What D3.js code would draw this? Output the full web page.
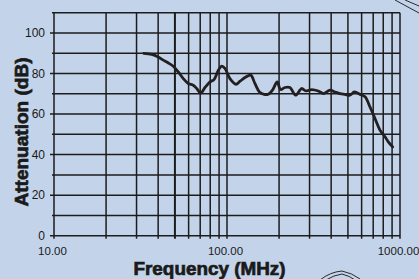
<!DOCTYPE html>
<html>
<head>
  <meta charset="utf-8">
  <script src="https://d3js.org/d3.v7.min.js"></script>
  <style>
    body{ margin:0; background:#c3d4ea; }
    text{ font-family: "Liberation Sans", Arial, sans-serif; fill:#1a1a1a; }
    text.tickLabel{ font-size:12px; }
    text.xl{ font-size:11.5px; }
    text.title{ font-size:18.5px; font-weight:700; stroke:#1a1a1a; stroke-width:0.7px; }
  </style>
</head>
<body>
<script>

  // measured curve (frequency in MHz, attenuation in dB)
  var freq = [33, 36.7, 40, 42.8, 45.8, 48.9, 52.3, 55.9, 59.7, 63.8, 66.8, 70.4, 74.6, 79.8, 84.1, 89.1, 93.2, 97.3,
              104, 112.7, 119, 127, 137, 145, 154, 164, 173, 184, 195, 204, 216, 231, 249, 270, 286, 309, 337, 361,
              394, 421, 450, 481, 514, 545, 588, 628, 671, 717, 766, 819, 856, 907];
  var atten = [89.9, 89.4, 88.2, 86.6, 85.2, 83.6, 80.8, 77.5, 75.1, 74.2, 72.6, 70.4, 73.1, 75.9, 77.0, 81.6, 83.6, 82.5,
               77.5, 74.7, 76.2, 78.0, 79.2, 75.1, 70.9, 69.7, 69.8, 72.1, 75.9, 72.1, 73.1, 73.1, 69.3, 72.6, 71.4, 72.1, 71.4, 70.1,
               71.8, 70.9, 70.1, 69.7, 69.3, 70.9, 69.7, 68.5, 63.5, 57.8, 52.1, 48.8, 46.3, 43.8];

  var xLabels = [10, 100, 1000];
  var yLabels = [0, 20, 40, 60, 80, 100];
  var yGrid = [0, 10, 20, 30, 40, 50, 60, 70, 80, 90, 100, 110];

  var width = 419, height = 279;
  var margin = {top: 12.7, right: 19, bottom: 43.3, left: 54};

  var svg = d3.select("body").append("svg")
    .attr("width", width)
    .attr("height", height);

  var x = d3.scaleLog()
    .domain([10, 1000])
    .range([margin.left, width - margin.right]);

  var y = d3.scaleLinear()
    .domain([0, 110])
    .range([height - margin.bottom, margin.top]);

  var grid = svg.append("g").attr("stroke", "#1c1c1c").attr("stroke-width", 1.5);

  // horizontal grid, with short outer ticks on the labelled values
  grid.selectAll("line.h")
    .data(yGrid)
    .enter().append("line")
    .attr("class", "h")
    .attr("x1", d => x(10) - (d % 20 == 0 ? 4 : 2))
    .attr("x2", x(1000))
    .attr("y1", d => y(d))
    .attr("y2", d => y(d));

  // vertical log grid
  grid.selectAll("line.v")
    .data(x.ticks())
    .enter().append("line")
    .attr("class", "v")
    .attr("x1", d => x(d))
    .attr("x2", d => x(d))
    .attr("y1", y(110))
    .attr("y2", y(0) + 3)
    .attr("stroke-width", d => d == 50 ? 2 : 1.5);

  svg.selectAll("text.yl")
    .data(yLabels)
    .enter().append("text")
    .attr("class", "tickLabel yl")
    .attr("x", x(10) - 9)
    .attr("y", d => y(d))
    .attr("dy", "0.36em")
    .style("text-anchor", "end")
    .text(d => d);

  svg.selectAll("text.xl")
    .data(xLabels)
    .enter().append("text")
    .attr("class", "tickLabel xl")
    .attr("x", d => x(d) - 1.5)
    .attr("y", y(0) + 19.5)
    .style("text-anchor", "middle")
    .text(d => d3.format(".2f")(d));

  var line = d3.line()
    .x(d => x(d[0]))
    .y(d => y(d[1]))
    .curve(d3.curveCatmullRom.alpha(0.5));

  svg.append("path")
    .datum(d3.zip(freq, atten))
    .attr("d", line)
    .attr("fill", "none")
    .attr("stroke", "#231f20")
    .attr("stroke-width", 2.8)
    .attr("stroke-linejoin", "round")
    .attr("stroke-linecap", "round");

  svg.append("text")
    .attr("class", "title")
    .attr("x", 209.5)
    .attr("y", 275)
    .attr("textLength", 152)
    .attr("lengthAdjust", "spacingAndGlyphs")
    .style("text-anchor", "middle")
    .text("Frequency (MHz)");

  svg.append("text")
    .attr("class", "title")
    .attr("transform", "translate(27.5,132) rotate(-90)")
    .attr("textLength", 149)
    .attr("lengthAdjust", "spacingAndGlyphs")
    .style("text-anchor", "middle")
    .text("Attenuation (dB)");

  // bits of the surrounding artwork poking into the frame
  var deco = svg.append("g").attr("fill", "none").attr("stroke", "#2a2a2a").attr("stroke-width", 1);
  deco.append("path").attr("d", "M395,0 L419,13");
  deco.append("path").attr("d", "M405,0 L419,6");
  deco.append("path").attr("d", "M320,280 Q330,272 342,271 Q352,273 360,279");
  deco.append("path").attr("d", "M326,280 Q334,275 342,274 Q350,276 355,280");

</script>
</body>
</html>
